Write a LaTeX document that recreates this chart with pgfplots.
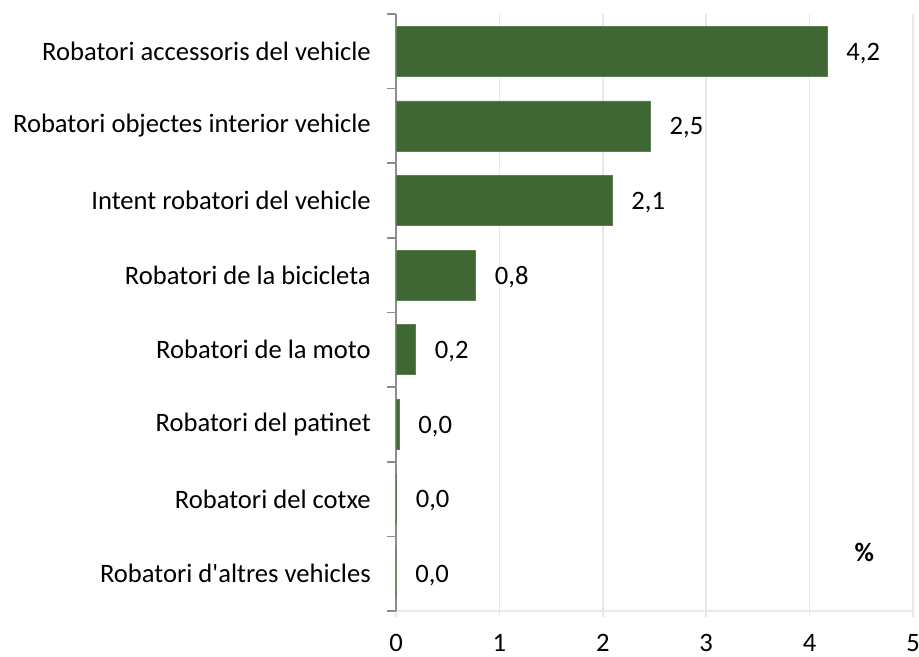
\documentclass[border=0pt]{standalone}
\usepackage{pgfplots}
\pgfplotsset{compat=1.18}
\usepackage{fontspec}
\setmainfont{Carlito}
\definecolor{barg}{RGB}{62,103,52}
\definecolor{gridc}{RGB}{232,232,232}
\definecolor{axc}{RGB}{140,140,140}
\newcommand{\lf}{\fontsize{13.3}{15}\selectfont}
\begin{document}
\lf
\begin{tikzpicture}
\path[use as bounding box] (-198pt,-23pt) rectangle (261.5pt,305.5pt);
\begin{axis}[
  at={(0,0)}, anchor=south west,
  scale only axis, width=258.5pt, height=298.5pt,
  xbar, bar width=0.67, bar shift=0pt,
  xmin=0, xmax=5, ymin=-0.5, ymax=7.5, y dir=reverse,
  xtick={0,1,2,3,4,5},
  ytick={0,1,2,3,4,5,6,7},
  yticklabels={Robatori accessoris del vehicle, Robatori objectes interior vehicle, Intent robatori del vehicle, Robatori de la bicicleta, Robatori de la moto, Robatori del patinet, Robatori del cotxe, Robatori d\textquotesingle altres vehicles},
  minor ytick={-0.5,0.5,1.5,2.5,3.5,4.5,5.5,6.5,7.5},
  axis x line*=bottom, axis y line*=left,
  x axis line style={draw=gridc, line width=0.8pt, -},
  y axis line style={draw=axc, line width=0.8pt, -},
  xmajorgrids, major grid style={draw=gridc, line width=0.8pt},
  tick align=outside,
  xtick style={draw=gridc, line width=0.8pt},
  major tick length=3pt,
  ytick style={draw=none},
  minor y tick style={draw=axc, line width=0.8pt},
  minor tick length=4.5pt,
  x tick label style={font=\lf, yshift=-4pt},
  y tick label style={font=\lf, xshift=-5pt},
  /pgf/number format/assume math mode=true,
  nodes near coords={\pgfmathprintnumber[fixed, fixed zerofill, precision=1, use comma]{\pgfplotspointmeta}},
  nodes near coords style={font=\lf, anchor=west, xshift=5pt, yshift=-1pt, black},
  point meta=explicit,
  clip=false,
]
\addplot[fill=barg, draw=barg!85!white, line width=0.4pt] coordinates {
 (4.17,0) [4.17]
 (2.46,1) [2.46]
 (2.09,2) [2.09]
 (0.77,3) [0.77]
 (0.19,4) [0.19]
 (0.03,5) [0.03]
 (0.005,6) [0.005]
 (0,7) [0]
};
\node[font=\lf\bfseries] at (axis cs:4.53,6.71) {\%};
\end{axis}
\end{tikzpicture}
\end{document}
